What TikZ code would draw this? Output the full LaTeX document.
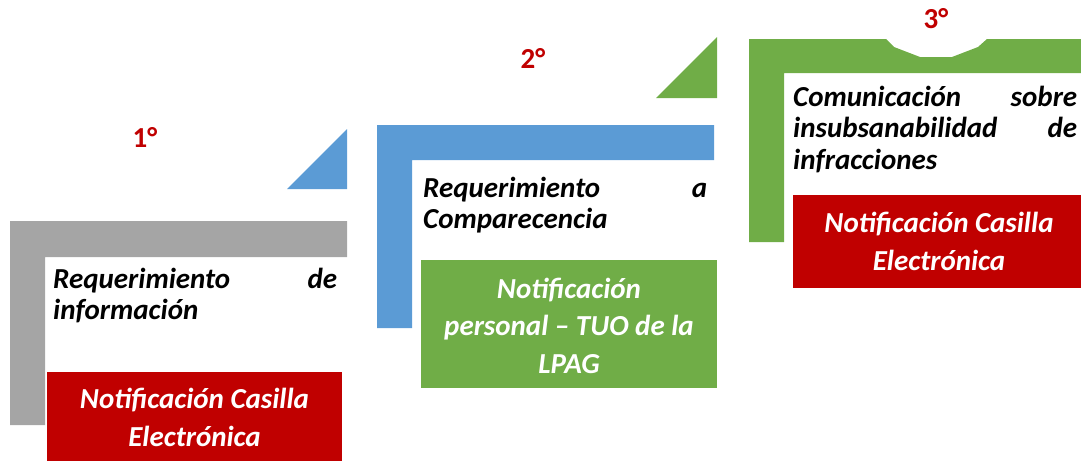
\documentclass[tikz,border=0pt]{standalone}
\usepackage{fontspec}
\setmainfont{Carlito}
\definecolor{cgray}{HTML}{A5A5A5}
\definecolor{cblue}{HTML}{5B9BD5}
\definecolor{cgreen}{HTML}{70AD47}
\definecolor{cred}{HTML}{C00000}
\tikzset{
  bodytext/.style={anchor=base west, inner sep=0pt, align=left, text=black,
    font=\fontsize{29}{31.5}\selectfont\bfseries\itshape},
  boxtext/.style={anchor=base, inner sep=0pt, align=flush center, text=white,
    font=\fontsize{29}{38}\selectfont\bfseries\itshape},
  steplabel/.style={inner sep=0pt, text=cred, font=\fontsize{29}{30}\selectfont\bfseries}
}
\begin{document}
\begin{tikzpicture}[x=1pt,y=-1pt]
\useasboundingbox (0,0) rectangle (1081,461);
% step 1
\fill[cgray] (10,221) -- (347,221) -- (347,257) -- (45,257) -- (45,425) -- (10,425) -- cycle;
\fill[cblue] (287,189) -- (347,129) -- (347,189) -- cycle;
\fill[cred] (47,372) rectangle (342,461);
\node[steplabel] (n1) at (145,137) {1°};
\node[bodytext, text width=284pt] (t1) at (53,288) {Requerimiento\hfill de\\información};
\node[boxtext, text width=290pt] (b1) at (194.5,408) {Notificación Casilla\\Electrónica};
% step 2
\fill[cblue] (377,125) -- (714,125) -- (714,160) -- (412,160) -- (412,328) -- (377,328) -- cycle;
\fill[cgreen] (656,98) -- (717,37) -- (717,98) -- cycle;
\fill[cgreen] (421,260) rectangle (717,388);
\node[steplabel] (n2) at (533,58) {2°};
\node[bodytext, text width=284pt] (t2) at (423,197) {Requerimiento\hfill a\\Comparecencia};
\node[boxtext, text width=290pt] (b2) at (569,298) {Notificación\\[-0.5pt]personal – TUO de la\\[-0.5pt]LPAG};
% step 3
\fill[cgreen] (749,39) -- (886,39) -- (894,47) -- (920,57) -- (952,57) -- (978,47) -- (987,39) -- (1081,39) -- (1081,73) -- (784,73) -- (784,242) -- (749,242) -- cycle;
\fill[cred] (793,195) rectangle (1081,288);
\node[steplabel] (n3) at (936,19) {3°};
\node[bodytext, text width=284pt] (t3) at (793,106) {Comunicación\hfill sobre\\insubsanabilidad\hfill de\\infracciones};
\node[boxtext, text width=290pt] (b3) at (939,232) {Notificación Casilla\\Electrónica};
\end{tikzpicture}
\end{document}
